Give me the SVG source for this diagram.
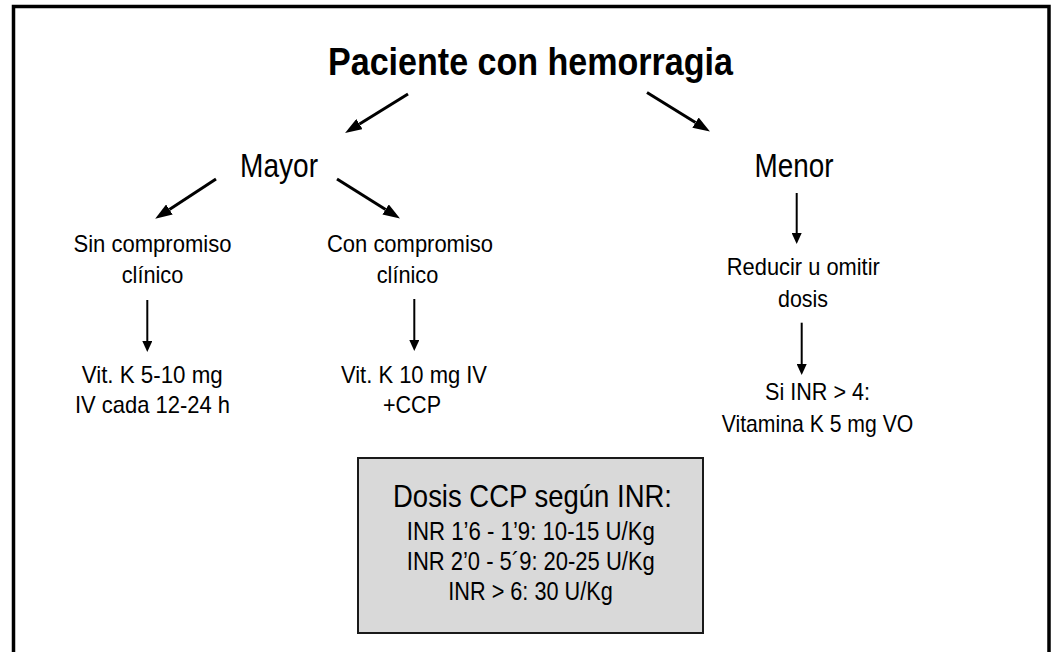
<svg xmlns="http://www.w3.org/2000/svg" width="1052" height="652" viewBox="0 0 1052 652">
<style>
text{font-family:"Liberation Sans Narrow","Liberation Sans",Arial,sans-serif;fill:#000;text-anchor:middle}
.t{font-size:38px;font-weight:bold}
.m{font-size:33px}
.s{font-size:24px}
.bt{font-size:32px}
.bl{font-size:26px}
.dl{stroke:#000;stroke-width:3;fill:none}
.vl{stroke:#000;stroke-width:2;fill:none}
</style>
<defs>
<marker id="dh" viewBox="0 0 17 12" refX="0" refY="6" markerWidth="17" markerHeight="12" markerUnits="userSpaceOnUse" orient="auto"><path d="M0,0 L17,6 L0,12 z" fill="#000"/></marker>
<marker id="vh" viewBox="0 0 11 10" refX="0" refY="5" markerWidth="11" markerHeight="10" markerUnits="userSpaceOnUse" orient="auto"><path d="M0,0 L11,5 L0,10 z" fill="#000"/></marker>
</defs>
<rect width="1052" height="652" fill="#fff"/>
<path d="M13.5,652 V6.5 H1049 V652" fill="none" stroke="#000" stroke-width="3.5"/>
<g id="title"><text class="t" x="530.5" y="75" textLength="405" lengthAdjust="spacingAndGlyphs">Paciente con hemorragia</text></g>
<g id="mayor"><text class="m" x="279" y="176.7" textLength="78" lengthAdjust="spacingAndGlyphs">Mayor</text></g>
<g id="menor"><text class="m" x="794" y="176.7" textLength="79" lengthAdjust="spacingAndGlyphs">Menor</text></g>
<g id="sin"><text class="s" x="152.5" y="251.7" textLength="158" lengthAdjust="spacingAndGlyphs">Sin compromiso</text><text class="s" x="152.5" y="283.3" textLength="61.6" lengthAdjust="spacingAndGlyphs">clínico</text></g>
<g id="con"><text class="s" x="410" y="251.7" textLength="166" lengthAdjust="spacingAndGlyphs">Con compromiso</text><text class="s" x="407.5" y="283.3" textLength="61.6" lengthAdjust="spacingAndGlyphs">clínico</text></g>
<g id="vitk1"><text class="s" x="152.2" y="383.3" textLength="141" lengthAdjust="spacingAndGlyphs">Vit. K 5-10 mg</text><text class="s" x="152.5" y="413.3" textLength="155" lengthAdjust="spacingAndGlyphs">IV cada 12-24 h</text></g>
<g id="vitk2"><text class="s" x="414" y="383.3" textLength="146" lengthAdjust="spacingAndGlyphs">Vit. K 10 mg IV</text><text class="s" x="412" y="413.3" textLength="58" lengthAdjust="spacingAndGlyphs">+CCP</text></g>
<g id="reducir"><text class="s" x="803.3" y="275" textLength="153" lengthAdjust="spacingAndGlyphs">Reducir u omitir</text><text class="s" x="803" y="306.7" textLength="50" lengthAdjust="spacingAndGlyphs">dosis</text></g>
<g id="siinr"><text class="s" x="817.5" y="400" textLength="105" lengthAdjust="spacingAndGlyphs">Si INR &gt; 4:</text><text class="s" x="817.5" y="431.7" textLength="191.6" lengthAdjust="spacingAndGlyphs">Vitamina K 5 mg VO</text></g>
<g id="dosisbox">
<rect x="358" y="458" width="345" height="175" fill="#d9d9d9" stroke="#1a1a1a" stroke-width="2"/>
<text class="bt" x="532.5" y="507" textLength="279" lengthAdjust="spacingAndGlyphs">Dosis CCP según INR:</text>
<text class="bl" x="530.8" y="540" textLength="248" lengthAdjust="spacingAndGlyphs">INR 1’6 - 1’9: 10-15 U/Kg</text>
<text class="bl" x="530.8" y="570" textLength="248" lengthAdjust="spacingAndGlyphs">INR 2’0 - 5´9: 20-25 U/Kg</text>
<text class="bl" x="530.5" y="600" textLength="164.4" lengthAdjust="spacingAndGlyphs">INR &gt; 6: 30 U/Kg</text>
</g>
<g id="connectors">
<line class="dl" x1="408" y1="94" x2="359.5" y2="124.1" marker-end="url(#dh)"/>
<line class="dl" x1="647" y1="92.5" x2="695.5" y2="122.6" marker-end="url(#dh)"/>
<line class="dl" x1="337" y1="179" x2="385.6" y2="209.5" marker-end="url(#dh)"/>
<line class="dl" x1="216" y1="179" x2="169.4" y2="209.5" marker-end="url(#dh)"/>
<line class="vl" x1="147.3" y1="300" x2="147.3" y2="341" marker-end="url(#vh)"/>
<line class="vl" x1="414.3" y1="299" x2="414.3" y2="340" marker-end="url(#vh)"/>
<line class="vl" x1="796.7" y1="193" x2="796.7" y2="233" marker-end="url(#vh)"/>
<line class="vl" x1="801.7" y1="322.7" x2="801.7" y2="364" marker-end="url(#vh)"/>
</g>
</svg>
